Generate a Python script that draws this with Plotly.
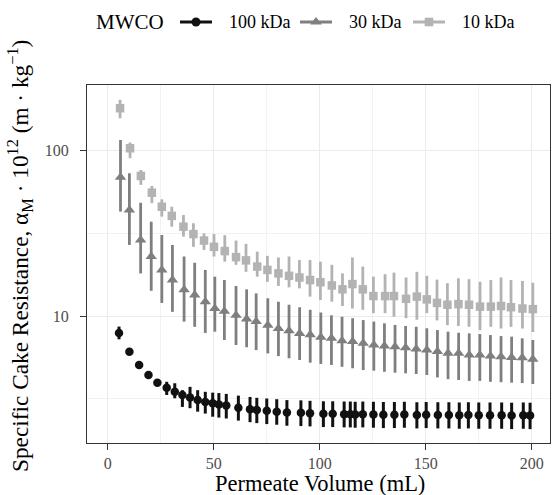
import plotly.graph_objects as go

# ---------------- data ----------------
x_100 = [5.3, 10.2, 14.8, 19.2, 23.4, 27.8, 31.6, 35.2, 38.8, 42.4, 46.0, 49.5,
         52.4, 55.9, 61.6, 67.1, 70.3, 75.0, 79.7, 84.5, 91.1, 95.4, 101.7, 106.1,
         111.5, 114.4, 116.7, 120.3, 125.3, 130.0, 135.2, 139.9, 145.8, 150.2, 155.7,
         160.9, 165.8, 170.1, 175.0, 180.3, 185.8, 190.5, 196.0, 199.2]
y_100 = [7.9, 6.08, 5.05, 4.40, 3.95, 3.68, 3.48, 3.33, 3.21, 3.10, 3.02, 2.97,
         2.92, 2.88, 2.79, 2.73, 2.70, 2.67, 2.64, 2.61, 2.60, 2.58, 2.56, 2.56,
         2.55, 2.55, 2.54, 2.55, 2.54, 2.53, 2.53, 2.54, 2.52, 2.53, 2.52,
         2.52, 2.51, 2.52, 2.51, 2.51, 2.51, 2.50, 2.51, 2.50]
lo_100 = [7.23, 6.0, 4.98, 4.33, 3.85, 3.33, 3.18, 2.82, 2.77, 2.64, 2.57, 2.46,
          2.43, 2.40, 2.33, 2.28, 2.25, 2.22, 2.20, 2.17, 2.16, 2.15, 2.13, 2.13,
          2.12, 2.12, 2.11, 2.12, 2.11, 2.10, 2.10, 2.11, 2.09, 2.10, 2.09,
          2.09, 2.08, 2.09, 2.08, 2.08, 2.08, 2.07, 2.08, 2.07]
hi_100 = [8.63, 6.16, 5.12, 4.47, 4.05, 4.0, 3.92, 3.56, 3.73, 3.56, 3.48, 3.44,
          3.42, 3.38, 3.30, 3.24, 3.20, 3.17, 3.14, 3.10, 3.09, 3.07, 3.05, 3.05,
          3.04, 3.04, 3.03, 3.04, 3.03, 3.02, 3.02, 3.03, 3.01, 3.02, 3.01,
          3.01, 3.00, 3.01, 3.00, 3.00, 3.00, 2.99, 3.00, 2.99]

x_30 = [6.0, 10.2, 15.5, 20.5, 25.5, 30.5, 36.0, 41.0, 46.0, 50.5, 55.0, 60.5,
        65.5, 70.0, 75.5, 80.5, 85.5, 90.5, 95.5, 100.5, 105.5, 110.5, 115.5, 120.5,
        125.5, 130.5, 135.5, 140.5, 145.5, 150.5, 155.5, 160.5, 165.5, 170.5, 175.5,
        180.5, 185.5, 190.5, 195.5, 200.5]
y_30 = [69, 43.8, 28.8, 22.9, 19.0, 16.5, 14.4, 13.4, 12.2, 11.1, 10.7, 10.1,
        9.6, 9.25, 8.8, 8.4, 8.15, 7.85, 7.7, 7.45, 7.33, 7.09, 7.0, 6.84,
        6.68, 6.58, 6.52, 6.43, 6.31, 6.22, 6.1, 5.95, 5.95, 5.81, 5.81,
        5.72, 5.67, 5.62, 5.60, 5.47]
lo_30 = [42.8, 26.9, 18.1, 14.2, 12.0, 10.6, 9.25, 8.6, 7.9, 8.04, 7.16, 6.68,
         6.47, 6.22, 5.94, 5.72, 5.55, 5.42, 5.22, 5.13, 5.06, 4.93, 4.83, 4.71,
         4.67, 4.60, 4.54, 4.50, 4.46, 4.40, 4.25, 4.15, 4.10, 4.05, 4.05,
         4.0, 3.98, 3.95, 3.93, 3.88]
hi_30 = [116, 73, 48.4, 37.2, 30.9, 26.9, 22.9, 21.0, 19.0, 17.3, 16.5, 15.2,
         14.5, 13.7, 12.8, 12.2, 11.7, 11.3, 10.9, 10.5, 10.1, 9.9, 9.7, 9.45,
         9.25, 9.03, 8.83, 8.70, 8.61, 8.43, 8.22, 8.04, 7.92, 7.85, 7.78,
         7.67, 7.56, 7.50, 7.33, 7.16]

x_10 = [5.8, 10.5, 15.6, 20.8, 25.5, 30.2, 35.7, 40.4, 45.4, 50.1, 55.2, 60.5,
        65.2, 70.5, 75.3, 80.5, 85.5, 90.4, 95.4, 100.3, 105.7, 110.7, 115.4, 120.3,
        125.3, 130.8, 135.0, 140.7, 145.8, 150.5, 155.3, 160.2, 165.4, 170.4, 175.6,
        180.7, 185.5, 190.2, 195.6, 200.5]
y_10 = [180.6, 103.4, 70.3, 55.7, 45.8, 40.3, 34.7, 31.3, 28.6, 26.2, 24.7, 22.7,
        21.7, 19.9, 19.0, 18.1, 17.5, 17.1, 16.5, 16.0, 15.3, 14.5, 15.6, 14.5,
        13.2, 13.2, 13.2, 12.7, 13.1, 12.6, 12.0, 11.7, 11.8, 11.7, 11.4,
        11.4, 11.5, 11.3, 11.1, 11.0]
lo_10 = [157, 90, 62.1, 48.1, 39.9, 34.7, 30.2, 26.2, 25.1, 22.9, 21.3, 20.4,
         18.5, 17.3, 16.1, 15.2, 14.9, 14.7, 13.1, 12.5, 12.2, 11.5, 11.1, 10.9,
         10.4, 10.4, 9.9, 9.7, 9.5, 10.4, 9.4, 8.8, 8.7, 8.6, 8.2,
         8.6, 8.4, 8.6, 8.4, 8.0]
hi_10 = [203, 112, 76.4, 61.1, 50.8, 45.8, 40.8, 36.4, 31.6, 31.3, 30.8, 28.6,
         27.3, 24.5, 23.1, 22.6, 22.9, 21.8, 21.8, 21.3, 20.4, 18.1, 22.6, 19.9,
         17.3, 17.9, 18.3, 17.1, 18.5, 17.5, 16.6, 15.8, 16.9, 16.7, 16.1,
         16.5, 17.1, 16.5, 16.3, 15.9]

series_names = ["100 kDa", "30 kDa", "10 kDa"]
legend_title = "MWCO"
x_ticks = [0, 50, 100, 150, 200]
x_minor = [25, 75, 125, 175]
y_ticks = [10, 100]
y_minor = [3.1623, 31.623]

# ---------------- figure ----------------
FONT = "Liberation Serif"
colors = ["#111111", "#7f7f7f", "#b3b3b3"]
symbols = ["circle", "triangle-up", "square"]
sizes = [8.5, 10, 8.5]
thick = [3, 2.8, 2.8]

W, H = 552, 495
ML, MR, MT, MB = 87, 2, 85, 52
PW, PH = W - ML - MR, H - MT - MB


def px_x(p):
    return (p - ML) / PW


def px_y(p):
    return (H - MB - p) / PH


data = [(x_100, y_100, lo_100, hi_100), (x_30, y_30, lo_30, hi_30), (x_10, y_10, lo_10, hi_10)]

fig = go.Figure()
for i, (xs, ys, lo, hi) in enumerate(data):
    plus = [h - y for h, y in zip(hi, ys)]
    minus = [y - l for y, l in zip(ys, lo)]
    fig.add_trace(go.Scatter(
        x=xs, y=ys, mode="markers", showlegend=False, name=series_names[i],
        marker=dict(color=colors[i], symbol=symbols[i], size=sizes[i], line=dict(width=0)),
        error_y=dict(type="data", symmetric=False, array=plus, arrayminus=minus,
                     thickness=thick[i], width=0, color=colors[i]),
    ))

# ---------------- legend drawn at the top (key line + glyph + label) ----------------
LEG_Y = 22
fig.add_annotation(text=legend_title, xref="paper", yref="paper", x=px_x(94), y=px_y(LEG_Y),
                   xanchor="left", yanchor="middle", showarrow=False,
                   font=dict(size=21, family=FONT, color="#000000"))
key_starts = [180, 300, 413]
for i in range(3):
    k0 = key_starts[i]
    cx = k0 + 16
    fig.add_shape(type="line", xref="paper", yref="paper", x0=px_x(k0), x1=px_x(k0 + 32),
                  y0=px_y(LEG_Y), y1=px_y(LEG_Y), line=dict(color=colors[i], width=3))
    common = dict(xref="paper", yref="paper", xsizemode="pixel", ysizemode="pixel",
                  xanchor=px_x(cx), yanchor=px_y(LEG_Y), fillcolor=colors[i],
                  line=dict(width=0))
    if symbols[i] == "circle":
        fig.add_shape(type="circle", x0=-4.5, x1=4.5, y0=-4.5, y1=4.5, **common)
    elif symbols[i] == "triangle-up":
        fig.add_shape(type="path", path="M -5.8 -2.5 L 5.8 -2.5 L 0 5 Z", **common)
    else:
        fig.add_shape(type="path", path="M -4.3 -4.3 L 4.3 -4.3 L 4.3 4.3 L -4.3 4.3 Z", **common)
    fig.add_annotation(text=series_names[i], xref="paper", yref="paper",
                       x=px_x(k0 + 47), y=px_y(LEG_Y), xanchor="left", yanchor="middle",
                       showarrow=False, font=dict(size=18, family=FONT, color="#000000"))

# axis titles
fig.add_annotation(
    text="Specific Cake Resistance, α<sub>M</sub> · 10<sup>12</sup> (m · kg<sup>−1</sup>)",
    textangle=-90, xref="paper", yref="paper", x=px_x(20), y=px_y(256),
    xanchor="center", yanchor="middle", showarrow=False,
    font=dict(size=23.3, family=FONT, color="#000000"),
)
fig.add_annotation(
    text="Permeate Volume (mL)", xref="paper", yref="paper", x=px_x(320), y=px_y(483),
    xanchor="center", yanchor="middle", showarrow=False,
    font=dict(size=22.5, family=FONT, color="#000000"),
)

fig.update_layout(
    width=W, height=H,
    margin=dict(l=ML, r=MR, t=MT, b=MB),
    paper_bgcolor="white", plot_bgcolor="white",
    font=dict(family=FONT, color="#000000", size=16),
    showlegend=False,
    xaxis=dict(
        range=[-9.8, 208.6], tickvals=x_ticks, ticktext=[str(t) for t in x_ticks],
        showgrid=True, gridcolor="#EBEBEB", gridwidth=1.3, zeroline=False,
        ticks="outside", ticklen=6, tickwidth=1, tickcolor="#333333",
        showline=True, mirror=True, linecolor="#333333", linewidth=1,
        tickfont=dict(size=16, color="#4d4d4d", family=FONT),
        automargin=False,
        minor=dict(tickvals=x_minor, showgrid=True, gridcolor="#F2F2F2", gridwidth=0.7, ticks=""),
    ),
    yaxis=dict(
        type="log", range=[0.232, 2.397], tickvals=y_ticks, ticktext=[str(t) for t in y_ticks],
        showgrid=True, gridcolor="#EBEBEB", gridwidth=1.3, zeroline=False,
        ticks="outside", ticklen=6, tickwidth=1, tickcolor="#333333",
        showline=True, mirror=True, linecolor="#333333", linewidth=1,
        tickfont=dict(size=16, color="#4d4d4d", family=FONT),
        ticklabelstandoff=8, automargin=False,
        minor=dict(tickvals=y_minor, showgrid=True, gridcolor="#F2F2F2", gridwidth=0.7, ticks=""),
    ),
)

fig.write_html("out.html", config={"displayModeBar": False},
               post_script="document.body.style.margin='0';")
